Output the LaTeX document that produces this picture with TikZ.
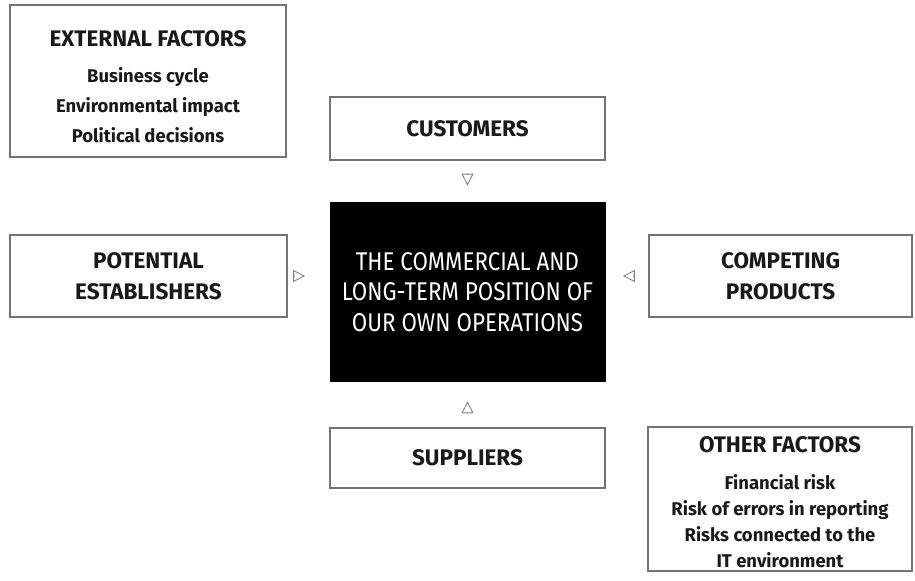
\documentclass[tikz,border=0pt]{standalone}
\usepackage{fontspec}
\setmainfont{Fira Sans}
\newfontfamily\hepchu[FakeStretch=0.87]{Fira Sans}
\usetikzlibrary{arrows.meta}

\begin{document}
\begin{tikzpicture}[>={Triangle[open, length=0.24cm, width=0.24cm]},
    hop/.style={draw=black!55, line width=0.7pt, inner sep=0pt, align=center,
        text=black!90, font=\bfseries\fontsize{12.8}{17.6}\selectfont},
    chu/.style={inner sep=0pt, align=center, text=black!90},
    nhan/.style={->, draw=black!50, line width=0.5pt}]
    \useasboundingbox (0,0) rectangle (18.3,11.6);

    % 1. Ô trung tâm màu đen
    \node[fill=black, text=white, inner sep=0pt, minimum width=5.52cm, minimum height=3.6cm,
        align=center, font=\hepchu\fontsize{14.6}{17.5}\selectfont]
        (core) at (9.35, 5.76) {THE COMMERCIAL AND\\LONG-TERM POSITION OF\\OUR OWN OPERATIONS};

    % 2. Bốn ô xung quanh
    \node[hop, minimum width=5.5cm, minimum height=1.26cm] (cust) at (9.35, 9.03) {CUSTOMERS};
    \node[hop, minimum width=5.5cm, minimum height=1.2cm] (sup) at (9.35, 2.44) {SUPPLIERS};
    \node[hop, minimum width=5.54cm, minimum height=1.64cm] (est) at (2.97, 6.08) {POTENTIAL\\ESTABLISHERS};
    \node[hop, minimum width=5.26cm, minimum height=1.64cm] (comp) at (15.61, 6.08) {COMPETING\\PRODUCTS};

    % 3. Hai ô các yếu tố
    \node[hop, minimum width=5.52cm, minimum height=3.04cm] (ext) at (2.96, 9.98) {};
    \node[chu, font=\bfseries\fontsize{10.5}{17}\selectfont] (exttext) at (2.96, 9.87)
        {{\fontsize{12.8}{17}\selectfont EXTERNAL FACTORS}\\[0.12cm]
        Business cycle\\Environmental impact\\Political decisions};
    \node[hop, minimum width=5.28cm, minimum height=2.88cm] (oth) at (15.6, 1.62) {};
    \node[chu, font=\bfseries\fontsize{10.5}{14.8}\selectfont] (othtext) at (15.6, 1.55)
        {{\fontsize{12.8}{14.8}\selectfont OTHER FACTORS}\\[0.22cm]
        Financial risk\\Risk of errors in reporting\\Risks connected to the\\IT environment};

    % 4. Mũi tên nhỏ hướng vào ô trung tâm
    \draw[nhan, shorten <=0.28cm, shorten >=0.32cm] (cust.south) -- (core.north);
    \draw[nhan, shorten <=0.3cm, shorten >=0.38cm] (sup.north) -- (core.south);
    \draw[nhan, shorten <=0.14cm, shorten >=0.48cm] (est.east) -- (est.east -| core.west);
    \draw[nhan, shorten <=0.3cm, shorten >=0.34cm] (comp.west) -- (comp.west -| core.east);
\end{tikzpicture}
\end{document}
